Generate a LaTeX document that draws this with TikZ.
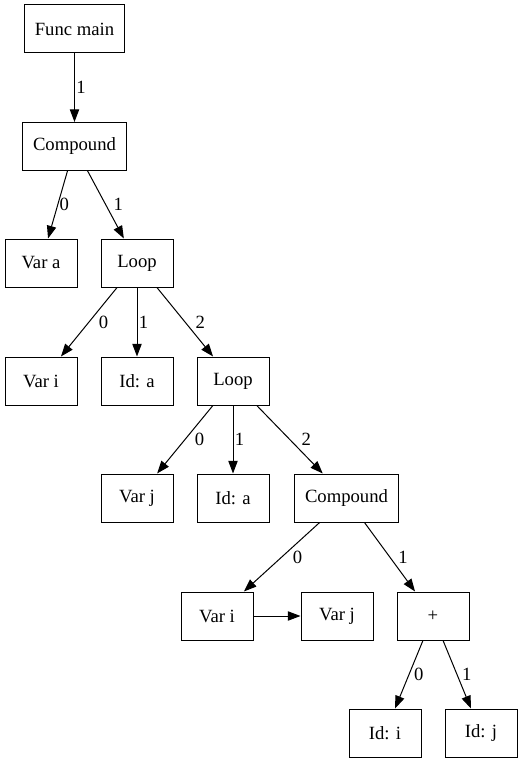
\documentclass[tikz,border=0pt]{standalone}
\usepackage{fontspec}
\setmainfont{Liberation Serif}
\usetikzlibrary{arrows.meta}
\begin{document}
\begin{tikzpicture}[x=0.75pt, y=-0.75pt, >={Triangle[length=9.5pt, width=7pt]}]

      \tikzset{box/.style={draw, rectangle, line width=0.75pt, inner xsep=7.9pt, minimum width=54pt, minimum height=36pt, font=\fontsize{14}{16}\selectfont},
               lbl/.style={midway, anchor=west, inner sep=1pt, font=\fontsize{14}{16}\selectfont},
               every edge/.append style={->, line width=0.75pt}}
      \useasboundingbox (0,0) rectangle (523,763);
%% Nodes
      	\node[box] (fmain) at (74.5,29) {Func main};
      	\node[box] (cmp1) at (74.5,146.5) {Compound};
    		\node[box] (vara) at (41,263) {Var a};
  	    \node[box] (loop1) at (137,263) {Loop};
     	\node[box] (vari1) at (41,381) {Var i};
     	\node[box] (ida1) at (137,381) {Id: a};
     	\node[box] (loop2) at (233,381) {Loop};
     	\node[box] (varj1) at (137,498) {Var j};
     	\node[box] (ida2) at (233,498) {Id: a};
     	\node[box] (cmp2) at (346.5,498) {Compound};
     	\node[box] (vari2) at (217,616) {Var i};
      	\node[box] (varj2) at (337,616) {Var j};
  	    \node[box] (plus) at (433,616) {+};
  	    \node[box] (idi) at (385,733) {Id: i};
     	\node[box] (idj) at (481,733) {Id: j};
%Edges
		\path (fmain) edge node[lbl] {1} (cmp1);
		\path (cmp1) edge node[lbl] {0} (vara);
		\path (cmp1) edge node[lbl, xshift=4.5pt] {1} (loop1);
		\path (loop1) edge node[lbl, xshift=6pt] {0} (vari1);
		\path (loop1) edge node[lbl] {1} (ida1);
		\path (loop1) edge node[lbl, xshift=6.5pt] {2} (loop2);
		\path (loop2) edge node[lbl, xshift=6pt] {0} (varj1);
		\path (loop2) edge node[lbl] {1} (ida2);
		\path (loop2) edge node[lbl, xshift=7.5pt] {2} (cmp2);
		\path (cmp2) edge node[lbl, xshift=7pt] {0} (vari2);
		\path (cmp2) edge node[lbl, xshift=5pt] {1} (plus);
		\path (vari2) edge (varj2);
		\path (plus) edge node[lbl, xshift=2.5pt] {0} (idi);
		\path (plus) edge node[lbl, xshift=2.5pt] {1} (idj);

	\end{tikzpicture}
\end{document}
